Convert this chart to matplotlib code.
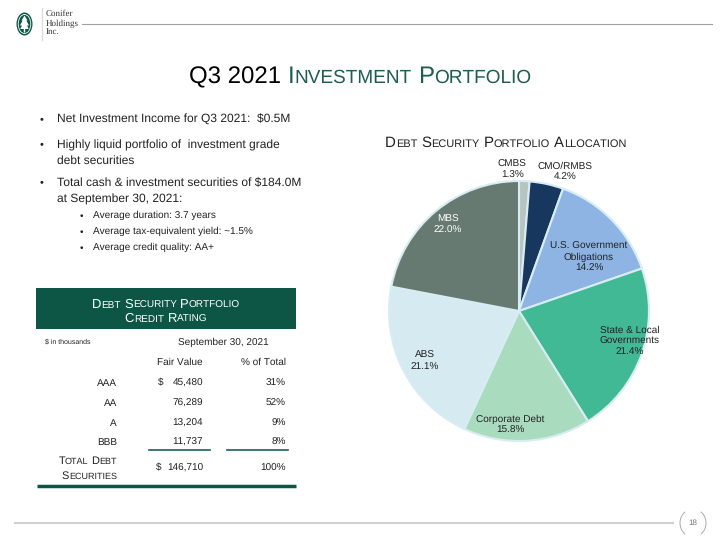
import numpy as np
import matplotlib
matplotlib.use("Agg")
import matplotlib.pyplot as plt
from matplotlib.patches import Rectangle, Ellipse, Arc, Polygon

plt.rcParams['font.family'] = ['Liberation Sans', 'DejaVu Sans']
plt.rcParams['text.hinting'] = 'no_hinting'
plt.rcParams['text.hinting_factor'] = 1

# pie data (clockwise from 12 o'clock)
sectors = ["CMBS", "CMO/RMBS", "U.S. Government\nObligations",
           "State & Local\nGovernments", "Corporate Debt", "ABS", "MBS"]
shares = [1.3, 4.2, 14.2, 21.4, 15.8, 21.1, 22.0]
sector_colors = ["#b7c4c2", "#17375e", "#8db4e3", "#41b995",
                 "#a9dcbf", "#d6eaf2", "#667a72"]

# bullets
bullets = [["Net Investment Income for Q3 2021:  $0.5M"],
           ["Highly liquid portfolio of  investment grade", "debt securities"],
           ["Total cash & investment securities of $184.0M",
            "at September 30, 2021:"]]
sub_bullets = ["Average duration: 3.7 years",
               "Average tax-equivalent yield: ~1.5%",
               "Average credit quality: AA+"]

# credit rating table
ratings = ["AAA", "AA", "A", "BBB"]
fair_values = [45480, 76289, 13204, 11737]
pct_total = [31, 52, 9, 8]

GREEN = "#0d5646"
TEXT = "#222222"

fig = plt.figure(figsize=(7.2, 5.4), dpi=100)
bg = fig.add_axes([0, 0, 1, 1])
bg.set_xlim(0, 720)
bg.set_ylim(540, 0)
bg.axis("off")
renderer = fig.canvas.get_renderer()


def sc_runs(s, big, small):
    # fake small caps: lower case letters become smaller capitals
    runs = []
    for ch in s:
        if ch == " ":
            runs.append((" ", big))
            continue
        size = small if ch.islower() else big
        if runs and runs[-1][1] == size and runs[-1][0] != " ":
            runs[-1] = (runs[-1][0] + ch.upper(), size)
        else:
            runs.append((ch.upper(), size))
    return runs


def draw_runs(ax, x, y, runs, ha="left", color=TEXT):
    pieces = []
    cursor = 0.0
    for txt, size, col in runs:
        if txt == " ":
            cursor += 0.278 * size * 100 / 72
            continue
        t = ax.text(0, y, txt, fontsize=size, color=col or color,
                    va="baseline", ha="left")
        pieces.append((t, cursor))
        cursor += t.get_window_extent(renderer).width
    if ha == "right":
        start = x - cursor
    elif ha == "center":
        start = x - cursor / 2
    else:
        start = x
    for t, off in pieces:
        t.set_x(start + off)


def colored(runs, col=None):
    return [(t, s, col) for t, s in runs]


# ---- header / logo
bg.add_patch(Ellipse((24.5, 24), 16, 23, facecolor=GREEN, edgecolor="none"))
bg.add_patch(Ellipse((24.5, 24), 12.5, 19, facecolor="none",
                     edgecolor="white", lw=0.6))
tree = [(24.5, 15.5), (27.5, 20.5), (26.3, 20.5), (29, 25.5), (27, 25.5),
        (28.7, 29), (25.2, 29), (25.2, 32.5), (23.8, 32.5), (23.8, 29),
        (20.3, 29), (22, 25.5), (20, 25.5), (22.7, 20.5), (21.5, 20.5)]
bg.add_patch(Polygon(tree, closed=True, facecolor="white", edgecolor="none"))
bg.plot([42, 42], [8, 40], color="#dddddd", lw=1)
for yy, word in zip([14, 24, 33], ["Conifer", "Holdings", "Inc."]):
    bg.text(46, yy, word, fontsize=6.2, family="Liberation Serif",
            color="#333333", va="center")
bg.plot([82, 712], [24, 24], color="#a0a0a0", lw=0.8)

# ---- title
title_runs = ([("Q3 2021", 17.5, "black"), (" ", 17.5, None)]
              + colored(sc_runs("Investment Portfolio", 17.5, 13.8), "#1d5e50"))
draw_runs(bg, 360, 83, title_runs, ha="center")

# ---- bullets
line_y = [[120], [145, 161], [183, 199]]
for lines, ys in zip(bullets, line_y):
    bg.text(40, ys[0] - 0.5, "\u2022", fontsize=8, color=TEXT, va="center")
    for txt, yy in zip(lines, ys):
        bg.text(57, yy, txt, fontsize=8.6, color=TEXT, va="center")
for txt, yy in zip(sub_bullets, [215, 231, 247]):
    bg.text(80, yy + 1, "\u2022", fontsize=7, color=TEXT, va="center")
    bg.text(93, yy, txt, fontsize=7.5, color=TEXT, va="center")

# ---- table
bg.add_patch(Rectangle((36, 288), 260, 41, facecolor=GREEN, edgecolor="none"))
draw_runs(bg, 166, 308, colored(sc_runs("Debt Security Portfolio", 9, 7)),
          ha="center", color="white")
draw_runs(bg, 166, 322, colored(sc_runs("Credit Rating", 9, 7)),
          ha="center", color="white")
bg.text(45, 342, "$ in thousands", fontsize=5.3, color=TEXT, va="center")
bg.text(223, 342, "September 30, 2021", fontsize=7.5, color=TEXT,
        va="center", ha="center")
bg.text(203, 362, "Fair Value", fontsize=7.5, color=TEXT, va="center", ha="right")
bg.text(286, 362, "% of Total", fontsize=7.5, color=TEXT, va="center", ha="right")
row_y = [383, 403, 423, 442]
for i, (r, v, p) in enumerate(zip(ratings, fair_values, pct_total)):
    yy = row_y[i]
    bg.text(117, yy, r, fontsize=7.5, color=TEXT, va="center", ha="right")
    if i == 0:
        bg.text(158, yy, "$", fontsize=7.5, color=TEXT, va="center")
    bg.text(203, yy, f"{v:,}", fontsize=7.5, color=TEXT, va="center", ha="right")
    bg.text(286, yy, f"{p}%", fontsize=7.5, color=TEXT, va="center", ha="right")
bg.plot([149, 210], [450, 450], color="#1d5e5a", lw=1.2)
bg.plot([227, 288], [450, 450], color="#1d5e5a", lw=1.2)
draw_runs(bg, 117, 464, colored(sc_runs("Total Debt", 7.8, 6.2)), ha="right")
draw_runs(bg, 117, 479, colored(sc_runs("Securities", 7.8, 6.2)), ha="right")
bg.text(156, 468, "$", fontsize=7.5, color=TEXT, va="center")
bg.text(203, 468, f"{sum(fair_values):,}", fontsize=7.5, color=TEXT,
        va="center", ha="right")
bg.text(286, 468, f"{sum(pct_total)}%", fontsize=7.5, color=TEXT,
        va="center", ha="right")
bg.plot([37, 296], [486, 486], color=GREEN, lw=2.5, solid_capstyle="butt")

# ---- pie
draw_runs(bg, 385, 147,
          colored(sc_runs("Debt Security Portfolio Allocation", 10.5, 8)),
          ha="left", color=TEXT)
cx, cy, R = 519, 311, 130
pax = fig.add_axes([(cx - R) / 720, (540 - cy - R) / 540, 2 * R / 720, 2 * R / 540])
wedges, _ = pax.pie(shares, colors=sector_colors, startangle=90,
                    counterclock=False, radius=1,
                    wedgeprops=dict(edgecolor="#d8ecf3", linewidth=1.5))
pax.set_xlim(-1, 1)
pax.set_ylim(-1, 1)

label_dist = [1.09, 1.13, 0.68, 0.88, 0.88, 0.82, 0.86]
label_turn = [5, -6, -7, 4, -8, 1, 0]
for w, name, s, d, turn in zip(wedges, sectors, shares, label_dist, label_turn):
    ang = np.deg2rad((w.theta1 + w.theta2) / 2 + turn)
    col = "white" if name == "MBS" else TEXT
    pax.text(d * np.cos(ang), d * np.sin(ang), f"{name}\n{s:.1f}%",
             fontsize=7.4, color=col, ha="center", va="center",
             linespacing=1.25, clip_on=False)

# ---- footer
bg.plot([15, 673], [523, 523], color="#d0d0d0", lw=1.5)
bg.add_patch(Arc((693, 523), 26, 28, theta1=125, theta2=235, color="#aaaaaa", lw=0.7))
bg.add_patch(Arc((693, 523), 26, 28, theta1=-55, theta2=55, color="#aaaaaa", lw=0.7))
bg.text(693, 523, "18", fontsize=5.5, color="#777777", ha="center", va="center")

fig.savefig("out.png", dpi=100)
